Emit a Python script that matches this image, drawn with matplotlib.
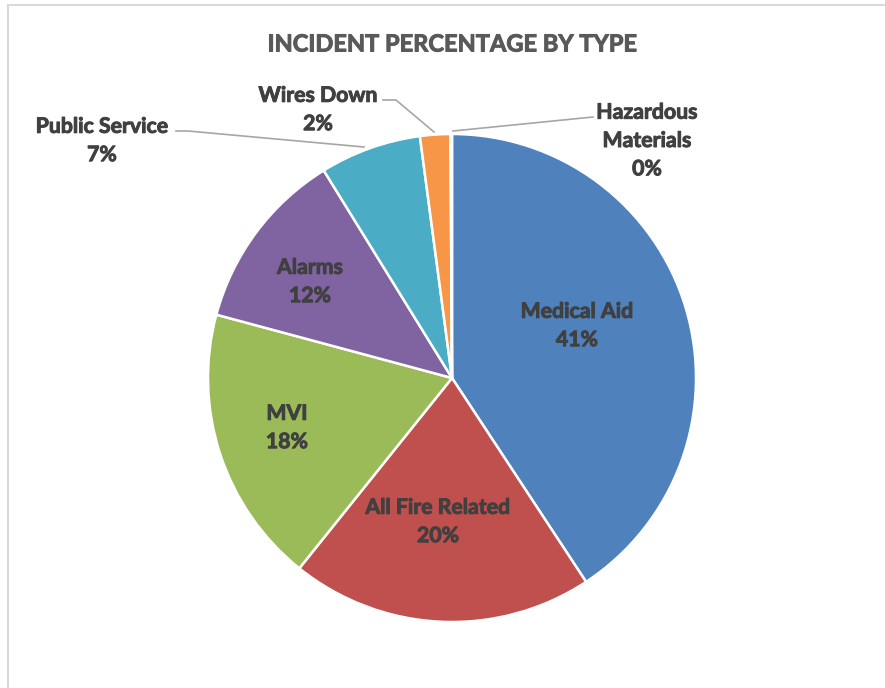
import matplotlib.pyplot as plt
import matplotlib.patheffects as pe
from matplotlib.patches import Rectangle

# Olay türleri ve yüzdeleri (saat yönünde, tepeden başlayarak)
turler = ['Medical Aid', 'All Fire Related', 'MVI', 'Alarms',
          'Public Service', 'Wires Down', 'Hazardous\nMaterials']
yuzdeler = [40.7, 20.0, 18.4, 12.0, 6.7, 2.0, 0.1]
renkler = ['#4F81BD', '#C0504D', '#9BBB59', '#8064A2',
           '#4BACC6', '#F79646', '#2C4D75']

# Etiket konumları (piksel, sol üstten)
etiket_xy = [(577, 326), (438, 522), (287, 428), (310, 282),
             (102, 141), (318, 110), (647, 141)]

# Dış etiketler için kılavuz çizgiler (piksel)
kilavuzlar = [
    None, None, None, None,
    [(176, 131), (188, 131), (364, 147)],
    [(383, 100), (396, 100), (434, 132)],
    [(593, 117), (453, 131)],
]

W, H = 885, 688
fig = plt.figure(figsize=(W / 100, H / 100), dpi=100)
ax = fig.add_axes([0, 0, 1, 1])

font = ['Lato', 'DejaVu Sans']

ax.pie(yuzdeler, colors=renkler, startangle=90, counterclock=False,
       center=(452, H - 378), radius=244,
       wedgeprops=dict(edgecolor='white', linewidth=1.8))

ax.set_xlim(0, W)
ax.set_ylim(0, H)
ax.set_aspect('equal')
ax.axis('off')

# Çerçeve
ax.add_patch(Rectangle((8, -20), W + 20, H + 20 - 5, fill=False,
                       ec='#D9D9D9', lw=1.5))

# Yazıları biraz kalınlaştır (Calibri Bold görünümü için)
kalin = lambda c: [pe.withStroke(linewidth=0.7, foreground=c)]

toplam = sum(yuzdeler)
for ad, deger, (px, py) in zip(turler, yuzdeler, etiket_xy):
    ax.text(px, H - py, f'{ad}\n{round(deger / toplam * 100)}%',
            ha='center', va='center', fontsize=15.3, fontweight='bold',
            color='#404040', family=font, linespacing=1.52,
            path_effects=kalin('#404040'))

for k in kilavuzlar:
    if k:
        ax.plot([p[0] for p in k], [H - p[1] for p in k],
                color='#A6A6A6', lw=1.2)

ax.text(452, H - 44, 'INCIDENT PERCENTAGE BY TYPE', ha='center', va='center',
        fontsize=17, fontweight='bold', color='#595959', family=font,
        path_effects=kalin('#595959'))

fig.savefig('out.png', dpi=100)
